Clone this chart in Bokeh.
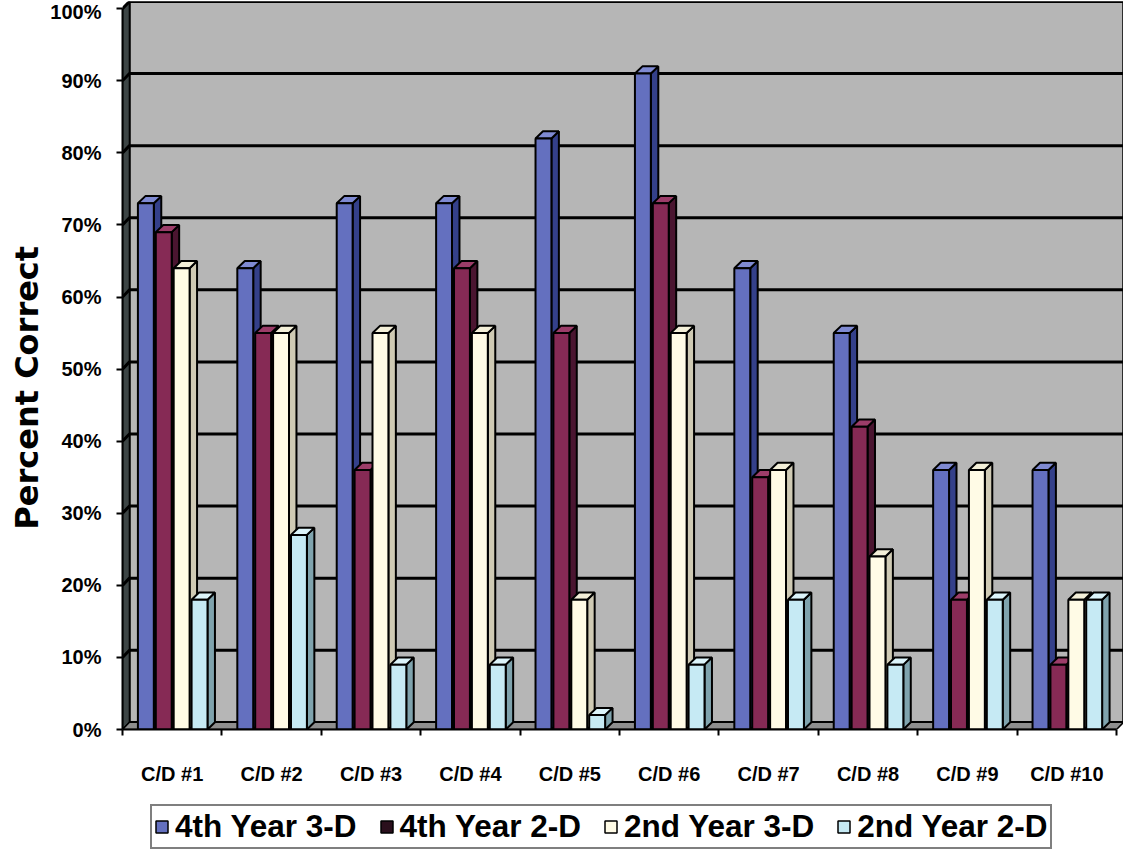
from bokeh.plotting import figure
from bokeh.layouts import column
from bokeh.models import FixedTicker, Legend, LegendItem, ColumnDataSource, Range1d
from bokeh.embed import file_html
from bokeh.resources import INLINE

# ---------------- data ----------------
categories = ["C/D #1", "C/D #2", "C/D #3", "C/D #4", "C/D #5",
              "C/D #6", "C/D #7", "C/D #8", "C/D #9", "C/D #10"]
series_names = ["4th Year 3-D", "4th Year 2-D", "2nd Year 3-D", "2nd Year 2-D"]
year4_3d = [73, 64, 73, 73, 82, 91, 64, 55, 36, 36]
year4_2d = [69, 55, 36, 64, 55, 73, 35, 42, 18, 9]
year2_3d = [64, 55, 55, 55, 18, 55, 36, 24, 36, 18]
year2_2d = [18, 27, 9, 9, 2, 9, 18, 9, 18, 18]
y_ticks = [0, 10, 20, 30, 40, 50, 60, 70, 80, 90, 100]

series_values = [year4_3d, year4_2d, year2_3d, year2_2d]
front_colors = ["#6470bf", "#862a55", "#fffbe6", "#c6eaf4"]
side_colors = ["#34408a", "#4a1530", "#cfcab4", "#7fa3ad"]
top_colors = ["#7f8ad2", "#9c3d69", "#f3efd8", "#dcf4fa"]
legend_swatch_colors = ["#6470bf", "#2a0f1c", "#fffbe6", "#c6eaf4"]

# ---------------- geometry (3-D look) ----------------
DX, DY = 0.07, 1.0        # depth offset of the walls (data units)
BDX, BDY = 0.075, 1.0     # depth offset of the bars
BAR_W = 0.16
GROUP_START = 0.155
BAR_STEP = 0.18
NCAT = len(categories)

p = figure(width=1123, height=792, output_backend="svg", toolbar_location=None,
           x_range=Range1d(0, NCAT + DX), y_range=Range1d(0, 100 + DY),
           min_border_left=122, min_border_right=0, min_border_top=1,
           min_border_bottom=63, background_fill_color="white",
           border_fill_color="white", outline_line_color=None)
p.xgrid.visible = False
p.ygrid.visible = False

# back wall
p.quad(left=[DX], right=[NCAT + DX], bottom=[DY], top=[100 + DY],
       fill_color="#b6b6b6", line_color="black", line_width=2.5)
# left wall
p.patch(x=[0, DX, DX, 0], y=[0, DY, 100 + DY, 100],
        fill_color="#3d4545", line_color="black", line_width=1.5)
# floor
p.patch(x=[0, NCAT, NCAT + DX, DX], y=[0, 0, DY, DY],
        fill_color="#8e8e8e", line_color="black", line_width=1.5)

# gridlines on the back wall and the left wall
gx, gy = [], []
for t in y_ticks[1:]:
    gx.append([0, DX, NCAT + DX])
    gy.append([t, t + DY, t + DY])
p.multi_line(xs=gx, ys=gy, line_color="black", line_width=3)

# bars: side, top, front per bar, drawn left to right
xs, ys, fills = [], [], []
for c in range(NCAT):
    for s, vals in enumerate(series_values):
        v = vals[c]
        x0 = c + GROUP_START + s * BAR_STEP
        x1 = x0 + BAR_W
        xs.append([x1, x1 + BDX, x1 + BDX, x1]); ys.append([0, BDY, v + BDY, v]); fills.append(side_colors[s])
        xs.append([x0, x1, x1 + BDX, x0 + BDX]); ys.append([v, v, v + BDY, v + BDY]); fills.append(top_colors[s])
        xs.append([x0, x1, x1, x0]); ys.append([0, 0, v, v]); fills.append(front_colors[s])
p.patches(xs="xs", ys="ys", fill_color="fill", line_color="black", line_width=2,
          source=ColumnDataSource(dict(xs=xs, ys=ys, fill=fills)))

FONT = "Liberation Sans"

# y axis
ya = p.yaxis[0]
ya.ticker = FixedTicker(ticks=y_ticks)
ya.major_label_overrides = {t: f"{t}%" for t in y_ticks}
ya.bounds = (0, 100)
ya.axis_line_width = 2
ya.major_tick_line_width = 2
ya.major_tick_out = 6
ya.major_tick_in = 0
ya.minor_tick_out = 0
ya.minor_tick_in = 0
ya.major_label_standoff = 15
ya.major_label_text_font = FONT
ya.major_label_text_font_style = "bold"
ya.major_label_text_font_size = "20px"
ya.major_label_text_color = "black"
ya.axis_label = "Percent Correct" + "\u00a0" * 4
ya.axis_label_text_font = "DejaVu Sans"
ya.axis_label_text_font_style = "bold"
ya.axis_label_text_font_size = "32px"
ya.axis_label_text_color = "black"
ya.axis_label_standoff = 1

# x axis
xa = p.xaxis[0]
centers = [c + 0.5 for c in range(NCAT)]
xa.ticker = FixedTicker(ticks=centers, minor_ticks=list(range(NCAT + 1)))
xa.major_label_overrides = {centers[i]: categories[i] for i in range(NCAT)}
xa.bounds = (0, NCAT)
xa.axis_line_width = 2
xa.major_tick_out = 0
xa.major_tick_in = 0
xa.minor_tick_out = 6
xa.minor_tick_in = 0
xa.minor_tick_line_width = 2
xa.major_label_standoff = 27
xa.major_label_text_font = FONT
xa.major_label_text_font_style = "bold"
xa.major_label_text_font_size = "20px"
xa.major_label_text_color = "black"

# legend in a separate strip below the chart (frame aligned with the chart's frame)
lg = figure(width=1123, height=57, output_backend="svg", toolbar_location=None,
            x_range=Range1d(0, 1), y_range=Range1d(0, 1),
            x_axis_location=None, y_axis_location=None,
            min_border_left=122, min_border_right=0, min_border_top=0,
            min_border_bottom=0, outline_line_color=None)
lg.xgrid.visible = False
lg.ygrid.visible = False
items = []
for s, name in enumerate(series_names):
    # proxy glyph placed outside the visible range; only its legend swatch shows
    r = lg.quad(left=[5], right=[6], bottom=[5], top=[6], fill_color=legend_swatch_colors[s],
                line_color="black", line_width=1.5)
    items.append(LegendItem(label=name, renderers=[r]))
legend = Legend(items=items, orientation="horizontal", location=(28, 0),
                margin=0, padding=2, spacing=22, label_standoff=6,
                glyph_width=15, glyph_height=15,
                label_text_font=FONT, label_text_font_style="bold",
                label_text_font_size="31.5px", label_text_color="black",
                border_line_color="black", border_line_width=2,
                background_fill_color="white", background_fill_alpha=1)
lg.add_layout(legend, "center")

layout = column(p, lg, spacing=0)
open("out.html", "w").write(file_html(layout, INLINE))
